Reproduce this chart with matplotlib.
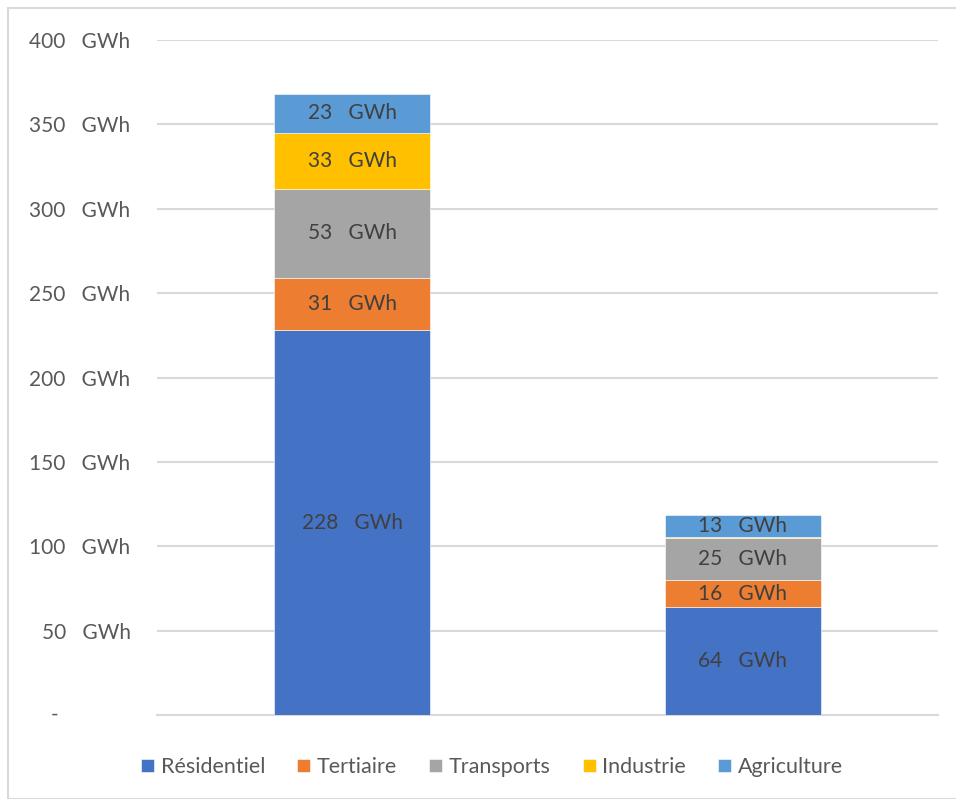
import matplotlib.pyplot as plt
from matplotlib.patches import Rectangle
import numpy as np

plt.rcParams['font.family'] = ['Lato', 'DejaVu Sans']

categories = ['A', 'B']
sectors = ['Résidentiel', 'Tertiaire', 'Transports', 'Industrie', 'Agriculture']
colors = ['#4472C4', '#ED7D31', '#A5A5A5', '#FFC000', '#5B9BD5']
values = {
    'Résidentiel': [228, 64],
    'Tertiaire': [31, 16],
    'Transports': [53, 25],
    'Industrie': [33, 0.4],
    'Agriculture': [23, 13],
}
yticks = [0, 50, 100, 150, 200, 250, 300, 350, 400]

fig = plt.figure(figsize=(9.56, 7.99), dpi=100)
ax = fig.add_axes([157 / 956, 1 - 715 / 799, (938 - 157) / 956, (715 - 40) / 799])

# chart area border
fig.patches.append(Rectangle((8 / 956, 0), 1.2, 1 - 8 / 799, transform=fig.transFigure,
                             fill=False, edgecolor='#D9D9D9', linewidth=1.5))

x = np.arange(len(categories))
bottom = np.zeros(len(categories))
for name, col in zip(sectors, colors):
    v = np.array(values[name], dtype=float)
    ax.bar(x, v, 0.4, bottom=bottom, color=col, label=name, zorder=3,
           edgecolor='white', linewidth=0.4)
    for xi, vi, bi in zip(x, v, bottom):
        if vi >= 1:
            ax.text(xi, bi + vi / 2, f'{vi:.0f}   GWh', ha='center', va='center',
                    fontsize=15, color='#404040', zorder=4)
    bottom += v

ax.set_xlim(-0.5, 1.5)
ax.set_ylim(0, 400)
ax.set_yticks(yticks)
ax.set_yticklabels(['' if t == 0 else f'{t}   GWh' for t in yticks])
ax.set_xticks([])
ax.tick_params(axis='y', length=0, pad=19, labelsize=15, labelcolor='#595959')
# zero shown as a dash, as in the accounting format
fig.text(55 / 956, 1 - 715 / 799, '-', ha='center', va='center', fontsize=15, color='#595959')
ax.grid(axis='y', color='#D9D9D9', linewidth=1.5, zorder=0)
for s in ['top', 'right', 'left']:
    ax.spines[s].set_visible(False)
ax.spines['bottom'].set_color('#D9D9D9')
ax.spines['bottom'].set_linewidth(1.5)

fig.legend(loc='center', bbox_to_anchor=(492 / 956, 1 - 767 / 799), ncol=5,
           frameon=False, fontsize=15.5, labelcolor='#595959', handlelength=0.6,
           handleheight=0.6, handletextpad=0.3, columnspacing=1.5)

fig.savefig('out.png', dpi=100)
